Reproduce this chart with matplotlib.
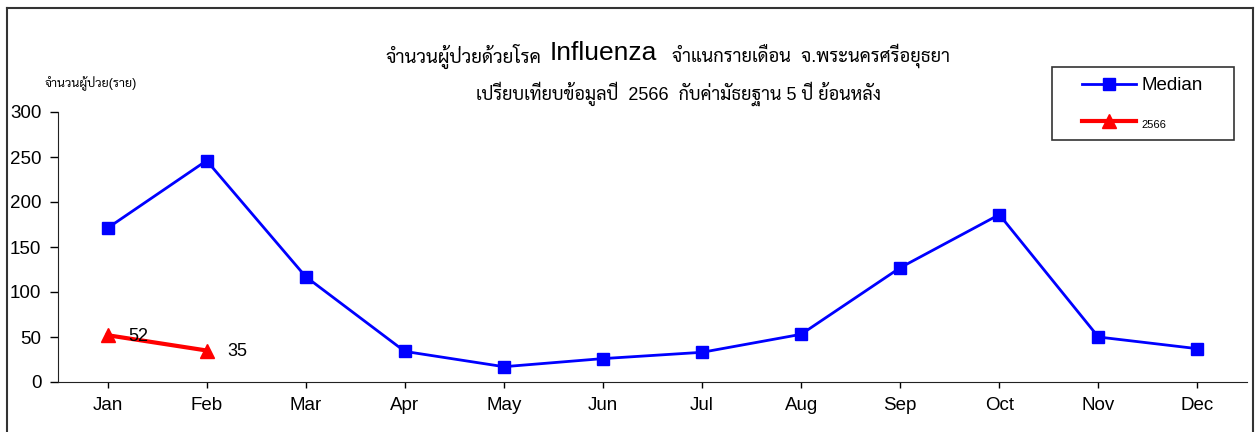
import matplotlib
matplotlib.use('Agg')
import matplotlib.pyplot as plt
from matplotlib import font_manager as fm
from matplotlib.lines import Line2D
from matplotlib.patches import Rectangle

months = ['Jan', 'Feb', 'Mar', 'Apr', 'May', 'Jun', 'Jul', 'Aug', 'Sep', 'Oct', 'Nov', 'Dec']
median = [171, 246, 117, 34, 17, 26, 33, 53, 127, 186, 50, 37]
cases_2566 = [52, 35]
yticks = [0, 50, 100, 150, 200, 250, 300]

# pick a looped Thai face for the Thai text, Arial-like for latin
names = {f.name for f in fm.fontManager.ttflist}
thai = next((n for n in ['Sarabun', 'Noto Sans Thai Looped', 'Noto Sans Thai', 'Anuphan'] if n in names), 'DejaVu Sans')
latin = 'Liberation Sans'
fam = [latin, thai, 'DejaVu Sans']
plt.rcParams['font.family'] = fam

fig = plt.figure(figsize=(12.55, 4.32), dpi=100)
W, H = 1255.0, 432.0
ax = fig.add_axes([58 / W, 1 - 382 / H, (1247 - 58) / W, (382 - 112) / H])

x = list(range(len(months)))
ax.plot(x, median, color='#0000ff', lw=2, marker='s', ms=8, label='Median')
ax.plot(x[:len(cases_2566)], cases_2566, color='#ff0000', lw=3, marker='^', ms=10.5, label='2566')
for i, v in enumerate(cases_2566):
    ax.annotate(str(v), (i, v), xytext=(15, -1), textcoords='offset points',
                va='center', ha='left', fontsize=13)

ax.set_xlim(-0.5, len(months) - 0.5)
ax.set_ylim(0, 300)
ax.set_xticks(x)
ax.set_xticklabels(months, fontsize=13.5)
ax.set_yticks(yticks)
ax.set_yticklabels([str(t) for t in yticks], fontsize=13.5)
ax.tick_params(axis='y', direction='out', length=6, width=1, pad=6)
ax.tick_params(axis='x', direction='out', length=4, width=1, pad=7)
for s in ['top', 'right']:
    ax.spines[s].set_visible(False)
for s in ['left', 'bottom']:
    ax.spines[s].set_color('#222222')

# title pieces
fig.text(541 / W, 1 - 56 / H, 'จำนวนผู้ป่วยด้วยโรค', ha='right', va='center', fontsize=13.5)
fig.text(550 / W, 1 - 53 / H, 'Influenza', ha='left', va='center', fontsize=19)
fig.text(672 / W, 1 - 56 / H, 'จำแนกรายเดือน  จ.พระนครศรีอยุธยา', ha='left', va='center', fontsize=13.2)
fig.text(678 / W, 1 - 94 / H, 'เปรียบเทียบข้อมูลปี  2566  กับค่ามัธยฐาน 5 ปี ย้อนหลัง',
         ha='center', va='center', fontsize=13)
fig.text(45 / W, 1 - 84 / H, 'จำนวนผู้ป่วย(ราย)', ha='left', va='center', fontsize=9)

# outer chart frame
fr = dict(color='#333333', lw=1.5, transform=fig.transFigure)
fig.add_artist(Line2D([7 / W, 7 / W], [0, 1 - 8 / H], **fr))
fig.add_artist(Line2D([7 / W, 1253 / W], [1 - 8 / H, 1 - 8 / H], **fr))
fig.add_artist(Line2D([1253 / W, 1253 / W], [0, 1 - 8 / H], **fr))

# legend box drawn by hand, legend itself frameless inside it
fig.add_artist(Rectangle((1052 / W, 1 - 140 / H), (1234 - 1052) / W, (140 - 67) / H,
                         transform=fig.transFigure, fill=False, edgecolor='#333333', lw=1.2))
leg = ax.legend(loc='upper left', bbox_to_anchor=(1082 / W, 1 - 77 / H), bbox_transform=fig.transFigure,
                frameon=False, handlelength=2.9, handletextpad=0.25, labelspacing=1.1, borderpad=0,
                borderaxespad=0, fontsize=13.5)
leg.get_texts()[1].set_fontsize(8)

fig.savefig('out.png', dpi=100)
